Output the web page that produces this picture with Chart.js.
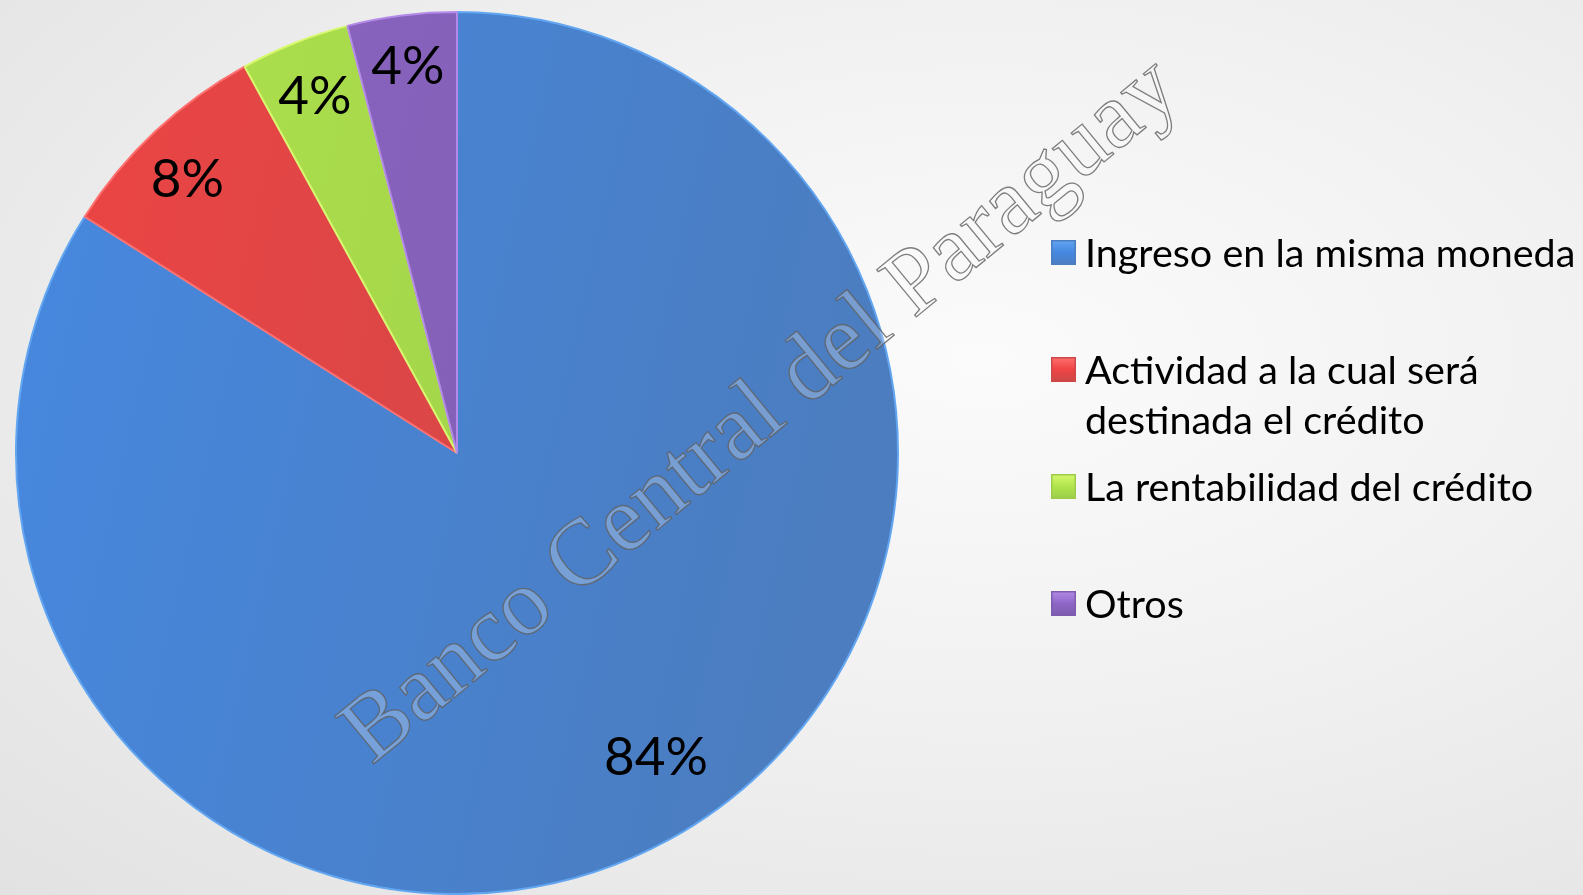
<!DOCTYPE html>
<html>
<head>
<meta charset="utf-8">
<script src="https://cdn.jsdelivr.net/npm/chart.js@4.4.1/dist/chart.umd.min.js"></script>
<style>
    html, body { margin: 0; padding: 0; }
    body {
        width: 1583px;
        height: 895px;
        overflow: hidden;
        background: radial-gradient(ellipse at 62% 40%, #fbfbfb 0%, #f1f1f1 45%, #e2e2e2 100%);
    }
    #chart { display: block; }
</style>
</head>
<body>
<canvas id="chart" width="1583" height="895"></canvas>
<script>
// Datos del gráfico
const categories = [
    ["Ingreso en la misma moneda"],
    ["Actividad a la cual será", "destinada el crédito"],
    ["La rentabilidad del crédito"],
    ["Otros"]
];
const shares = [84, 8, 4, 4];
const shareLabels = ["84%", "8%", "4%", "4%"];

// Colores (claro, oscuro, borde)
const lightColors = ["#4688e0", "#ee4444", "#b0e44c", "#8e66c6"];
const darkColors = ["#4b7dc0", "#cc4848", "#9ccc4a", "#7d5cae"];
const edgeColors = ["#62a6f2", "#ff7070", "#d8f870", "#b48ae8"];

// Posición radial de cada porcentaje (fracción del radio) y ajuste de ángulo
const labelRadius = [0.82, 0.875, 0.875, 0.89];
const labelAngleShift = [-0.08, -0.02, 0, 0];

const legendTops = [240, 357, 474, 591];

function shade(context, i) {
    const area = context.chart.chartArea;
    if (!area) return lightColors[i];
    const g = context.chart.ctx.createLinearGradient(area.left, area.top, area.right, area.top + 200);
    g.addColorStop(0, lightColors[i]);
    g.addColorStop(1, darkColors[i]);
    return g;
}

const pieLabels = {
    id: "pieLabels",
    afterDatasetsDraw(chart) {
        const ctx = chart.ctx;
        const arcs = chart.getDatasetMeta(0).data;
        ctx.save();
        ctx.font = "53px Lato";
        ctx.fillStyle = "#000";
        ctx.textAlign = "center";
        ctx.textBaseline = "middle";
        arcs.forEach((arc, i) => {
            const p = arc.getProps(["x", "y", "startAngle", "endAngle", "outerRadius"], true);
            const mid = (p.startAngle + p.endAngle) / 2 + labelAngleShift[i];
            const r = p.outerRadius * labelRadius[i];
            ctx.fillText(shareLabels[i], p.x + Math.cos(mid) * r, p.y + Math.sin(mid) * r + 3);
        });
        ctx.restore();
    }
};

const watermark = {
    id: "watermark",
    afterDraw(chart) {
        const ctx = chart.ctx;
        ctx.save();
        ctx.translate(762, 412);
        ctx.rotate(-39.5 * Math.PI / 180);
        ctx.font = "94px 'Liberation Serif'";
        ctx.textAlign = "center";
        ctx.textBaseline = "middle";
        ctx.fillStyle = "rgba(255,255,255,0.25)";
        ctx.fillText("Banco Central del Paraguay", 0, 0);
        ctx.lineWidth = 1.3;
        ctx.strokeStyle = "rgba(95,95,95,0.8)";
        ctx.strokeText("Banco Central del Paraguay", 0, 0);
        ctx.restore();
    }
};

const sideLegend = {
    id: "sideLegend",
    afterDraw(chart) {
        const ctx = chart.ctx;
        ctx.save();
        categories.forEach((lines, i) => {
            const x = 1051, y = legendTops[i], s = 25;
            const g = ctx.createLinearGradient(x, y, x, y + s);
            g.addColorStop(0, edgeColors[i]);
            g.addColorStop(0.5, lightColors[i]);
            g.addColorStop(1, darkColors[i]);
            ctx.fillStyle = g;
            ctx.fillRect(x, y, s, s);
            ctx.lineWidth = 1.5;
            ctx.strokeStyle = darkColors[i];
            ctx.strokeRect(x + 0.75, y + 0.75, s - 1.5, s - 1.5);
            ctx.fillStyle = "#000";
            ctx.font = "39.5px Lato";
            ctx.textBaseline = "alphabetic";
            lines.forEach((t, k) => {
                ctx.fillText(t, 1085, y + 27 + k * 50);
            });
        });
        ctx.restore();
    }
};

new Chart(document.getElementById("chart"), {
    type: "pie",
    data: {
        labels: categories.map(c => c.join(" ")),
        datasets: [{
            data: shares,
            backgroundColor: ctx => shade(ctx, ctx.dataIndex),
            borderColor: edgeColors,
            borderWidth: 2
        }]
    },
    options: {
        responsive: false,
        animation: false,
        layout: { padding: { left: 15, right: 684, top: 11, bottom: 0 } },
        plugins: {
            legend: { display: false },
            tooltip: { enabled: false }
        }
    },
    plugins: [pieLabels, sideLegend, watermark]
});
</script>
</body>
</html>
